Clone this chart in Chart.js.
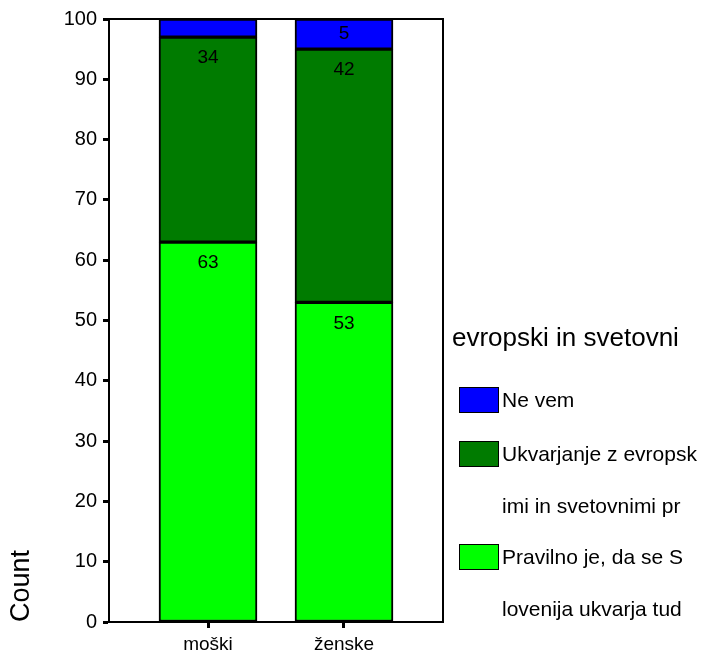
<!DOCTYPE html>
<html>
<head>
<meta charset="utf-8">
<script src="https://cdn.jsdelivr.net/npm/chart.js@4.4.0/dist/chart.umd.min.js"></script>
<style>
  body { margin: 0; background: #fff; }
  #wrap { position: relative; width: 709px; height: 655px; font-family: "Liberation Sans", Arial, sans-serif; }
  #legend { position: absolute; left: 452px; top: 320px; color: #000; }
  #legend .title { font-size: 26px; line-height: 34px; white-space: nowrap; }
  #legend .item { position: absolute; left: 7px; font-size: 21px; line-height: 52px; white-space: nowrap; }
  #legend .box { position: absolute; left: 0; width: 38px; height: 24px; border: 1px solid #000; }
  #legend .txt { position: absolute; left: 43px; }
</style>
</head>
<body>
<div id="wrap">
  <canvas id="chart" width="709" height="655"></canvas>
  <div id="legend"></div>
</div>
<script>
const categories = ['moški', 'ženske'];
const seriesNames = ['Pravilno je, da se S lovenija ukvarja tud', 'Ukvarjanje z evropsk imi in svetovnimi pr', 'Ne vem'];
const legendLines = [['Ne vem'], ['Ukvarjanje z evropsk', 'imi in svetovnimi pr'], ['Pravilno je, da se S', 'lovenija ukvarja tud']];
const pravilno = [63, 53];
const ukvarjanje = [34, 42];
const neVem = [3, 5];
const colors = ['#00ff00', '#007b00', '#0000ff'];
const legendTitle = 'evropski in svetovni';

const seriesValues = [pravilno, ukvarjanje, neVem];

const frame = {
    id: 'frame',
    afterDatasetsDraw(chart) {
        const a = chart.chartArea;
        const ctx = chart.ctx;
        ctx.save();
        ctx.strokeStyle = '#000';
        ctx.lineWidth = 2;
        ctx.strokeRect(a.left, a.top, a.right - a.left, a.bottom - a.top);
        // value labels
        ctx.fillStyle = '#000';
        ctx.font = '19px "Liberation Sans", Arial, sans-serif';
        ctx.textAlign = 'center';
        ctx.textBaseline = 'middle';
        chart.data.datasets.forEach((ds, di) => {
            chart.getDatasetMeta(di).data.forEach((el, i) => {
                const h = el.base - el.y;
                if (h < 25) return;
                ctx.fillText(String(ds.data[i].y), el.x, el.y + Math.min(21, h / 2));
            });
        });
        ctx.restore();
    }
};

new Chart(document.getElementById('chart'), {
    type: 'bar',
    data: {
        datasets: seriesValues.map((vals, s) => ({
            label: seriesNames[s],
            data: vals.map((v, i) => ({ x: i, y: v })),
            backgroundColor: colors[s],
            borderColor: '#000',
            borderWidth: 2,
            borderSkipped: false,
            barThickness: 98
        }))
    },
    options: {
        responsive: false,
        animation: false,
        layout: { padding: { top: 19, right: 266, left: 0, bottom: 0 } },
        plugins: {
            legend: { display: false },
            tooltip: { enabled: false }
        },
        scales: {
            x: {
                type: 'linear',
                stacked: true,
                offset: false,
                min: -0.728,
                max: 1.728,
                afterBuildTicks: scale => { scale.ticks = categories.map((c, i) => ({ value: i })); },
                afterFit: scale => { scale.height = 33; },
                ticks: {
                    color: '#000',
                    font: { family: '"Liberation Sans", Arial, sans-serif', size: 19 },
                    padding: 5,
                    maxRotation: 0,
                    callback: v => categories[v]
                },
                grid: { offset: false, drawOnChartArea: false, tickLength: 6, tickWidth: 3, tickColor: '#000' },
                border: { color: '#000', width: 2 }
            },
            y: {
                stacked: true,
                min: 0,
                max: 100,
                afterFit: scale => { scale.width = 109; },
                ticks: {
                    stepSize: 10,
                    color: '#000',
                    padding: 6,
                    font: { family: '"Liberation Sans", Arial, sans-serif', size: 20 }
                },
                grid: { drawOnChartArea: false, tickLength: 6, tickWidth: 3, tickColor: '#000' },
                border: { color: '#000', width: 2 },
                title: {
                    display: true,
                    text: 'Count',
                    align: 'start',
                    color: '#000',
                    padding: { top: 5, bottom: 0 },
                    font: { family: '"Liberation Sans", Arial, sans-serif', size: 27 }
                }
            }
        }
    },
    plugins: [frame]
});

// legend built from the series arrays
const legend = document.getElementById('legend');
const t = document.createElement('div');
t.className = 'title';
t.textContent = legendTitle;
legend.appendChild(t);
const order = [2, 1, 0];
order.forEach((s, k) => {
    const top = [58, 112, 215][k];
    const box = document.createElement('div');
    box.className = 'box';
    box.style.left = '7px';
    box.style.top = (top + 9) + 'px';
    box.style.background = colors[s];
    legend.appendChild(box);
    legendLines[k].forEach((line, j) => {
        const d = document.createElement('div');
        d.className = 'item';
        d.style.top = (top + j * 52 - 4) + 'px';
        const span = document.createElement('span');
        span.className = 'txt';
        span.textContent = line;
        d.appendChild(span);
        legend.appendChild(d);
    });
});
</script>
</body>
</html>
